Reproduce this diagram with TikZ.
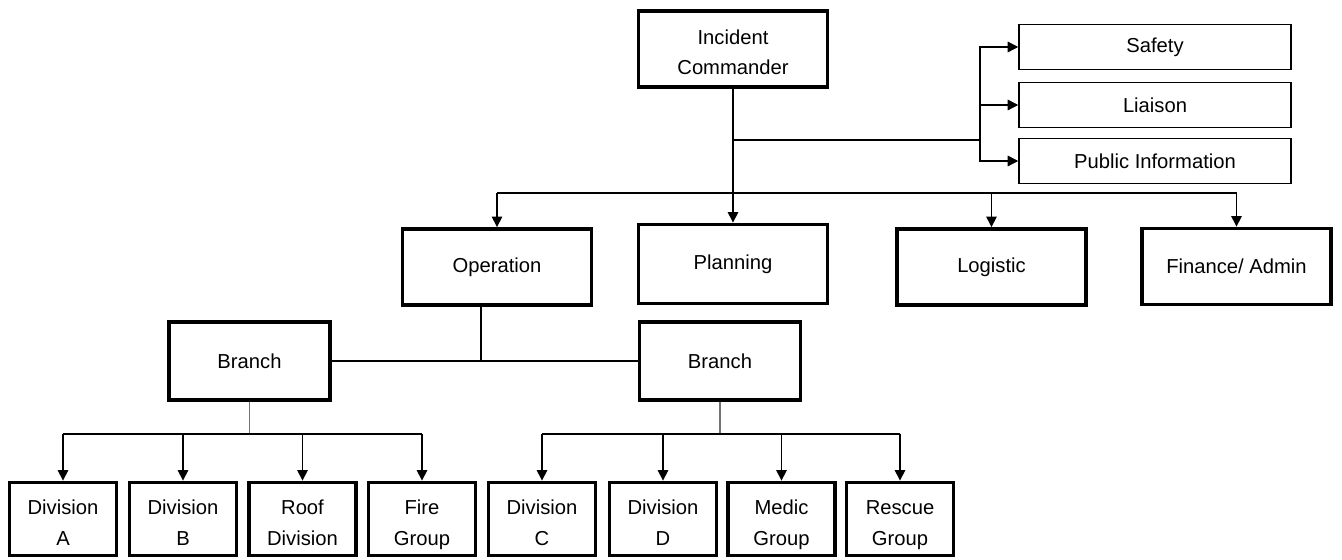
\documentclass[tikz,border=0pt]{standalone}
\usepackage{fontspec}
\setmainfont{Liberation Sans}
\usetikzlibrary{arrows.meta,calc}

\tikzset{
  box/.style={draw, line width=2.2pt, fill=white, align=center, inner sep=0pt,
    font=\fontsize{11.5}{17.5}\selectfont, minimum width=3.78cm, minimum height=1.52cm},
  twoline/.style={text height=32pt, text depth=2.4pt},
  staffbox/.style={box, line width=0.9pt, minimum width=5.44cm, minimum height=0.9cm},
  branchbox/.style={box, minimum width=3.22cm, minimum height=1.56cm},
  divbox/.style={box, twoline, minimum width=2.14cm, minimum height=1.46cm},
  link/.style={line width=0.8pt},
  sublink/.style={line width=0.6pt, black!55},
  arr/.style={link, -{Triangle[length=6pt,width=6pt]}},
}

\begin{document}
\begin{tikzpicture}[x=0.02cm, y=-0.02cm]
	\useasboundingbox (0,0) rectangle (1342,560);

	% command
	\node[box, twoline] (ic) at (733,49) {Incident\\Commander};

	% staff
	\node[staffbox] (safety) at (1155,47) {Safety};
	\node[staffbox] (liaison) at (1155,105) {Liaison};
	\node[staffbox] (pubinfo) at (1155,161) {Public Information};

	% sections
	\node[box] (ops) at (497,267) {Operation};
	\node[box, minimum height=1.58cm] (planning) at (733,264) {Planning};
	\node[box] (logistic) at (991.5,267) {Logistic};
	\node[box] (finance) at (1236.5,266.5) {Finance/ Admin};

	% branches
	\node[branchbox] (branchA) at (249.5,361) {Branch};
	\node[branchbox] (branchB) at (720,361) {Branch};

	% divisions
	\node[divbox] (divA) at (63,519) {Division\\A};
	\node[divbox] (divB) at (183,519) {Division\\B};
	\node[divbox] (roof) at (302.5,519) {Roof\\Division};
	\node[divbox] (fire) at (422,519) {Fire\\Group};
	\node[divbox] (divC) at (542,519) {Division\\C};
	\node[divbox] (divD) at (663,519) {Division\\D};
	\node[divbox] (medic) at (781.5,519) {Medic\\Group};
	\node[divbox] (rescue) at (900,519) {Rescue\\Group};

	% IC -> staff
	\coordinate (staffbus) at (980,140);
	\draw[link] (ic.south |- staffbus) -- (staffbus);
	\draw[arr] (staffbus) |- (safety.west);
	\draw[arr] (staffbus) |- (liaison.west);
	\draw[arr] (staffbus) |- (pubinfo.west);

	% IC -> sections
	\coordinate (cmdbus) at (733,193);
	\draw[arr] (ic.south) -- (planning.north);
	\draw[link] (ops.north |- cmdbus) -- (finance.north |- cmdbus);
	\foreach \n in {ops,logistic,finance}
		\draw[arr] (\n.north |- cmdbus) -- (\n.north);

	% operation -> branches
	\coordinate (opsfoot) at ($(ops.south)+(-16,0)$);
	\draw[link] (opsfoot) -- (opsfoot |- branchA.east);
	\draw[link] (branchA.east) -- (branchB.west);

	% branches -> divisions
	\path (branchA.south) ++(0,32) coordinate (busA);
	\path (branchB.south) ++(0,32) coordinate (busB);
	\draw[sublink] (branchA.south) -- (busA);
	\draw[sublink] (branchB.south) -- (busB);
	\draw[link] (divA.north |- busA) -- (fire.north |- busA);
	\draw[link] (divC.north |- busB) -- (rescue.north |- busB);
	\foreach \n in {divA,divB,roof,fire,divC,divD,medic,rescue}
		\draw[arr] (\n.north |- busA) -- (\n.north);
\end{tikzpicture}
\end{document}
